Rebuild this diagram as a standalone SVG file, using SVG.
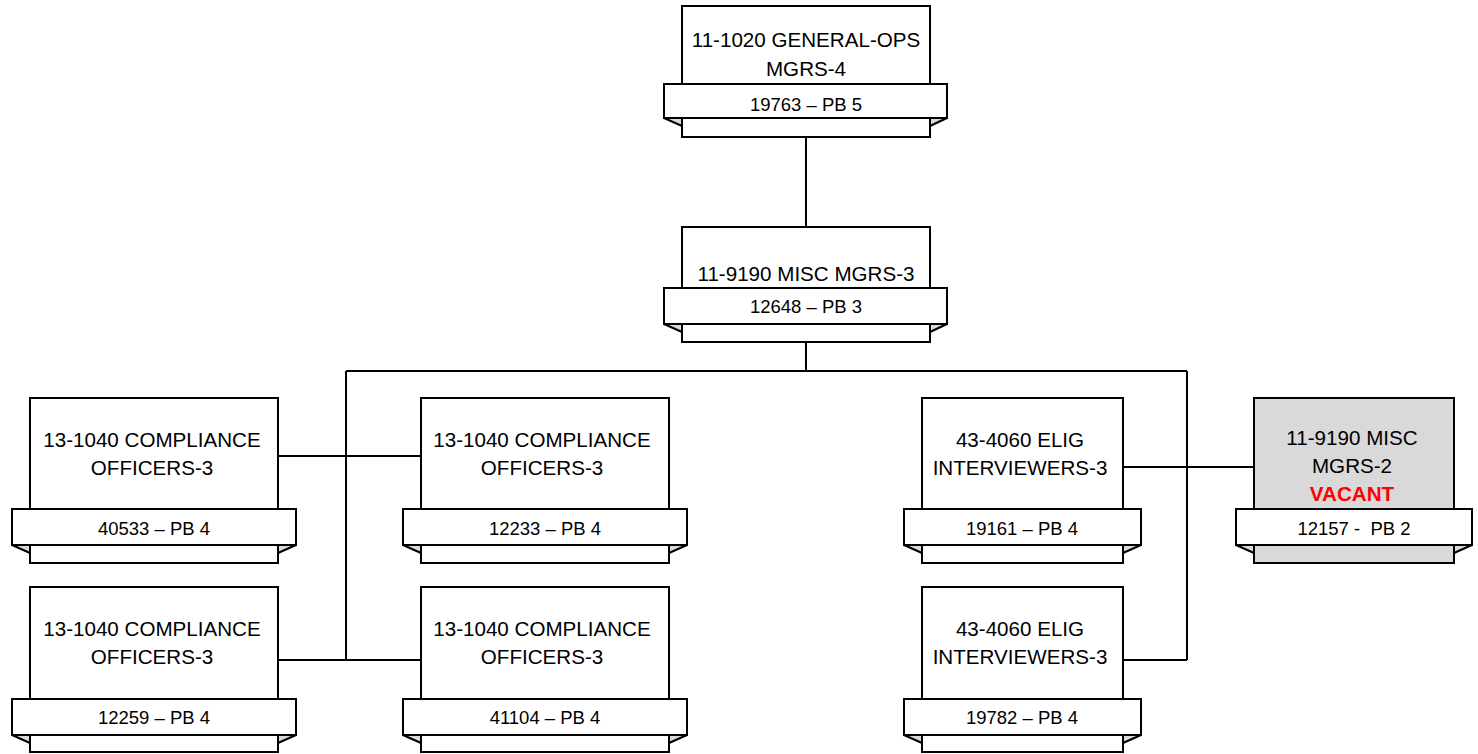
<svg xmlns="http://www.w3.org/2000/svg" width="1478" height="754" viewBox="0 0 1478 754">
<style>
.box{fill:#fff;stroke:#000;stroke-width:2}
.vac{fill:#d9d9d9;stroke:#000;stroke-width:2}
.ban{fill:#fff;stroke:#000;stroke-width:2}
.fold{fill:#d9d9d9;stroke:#000;stroke-width:2;stroke-linejoin:round}
.t{font-family:"Liberation Sans",Arial,sans-serif;font-size:20.6px;fill:#000;text-anchor:middle}
.b{font-family:"Liberation Sans",Arial,sans-serif;font-size:18.5px;fill:#000;text-anchor:middle}
.red{font-weight:bold;fill:#ff0000}
.c{fill:none;stroke:#000;stroke-width:2}
</style>
<g id="connectors">
<path class="c" d="M806 137V227M806 342V371M346 371H1187M346 371V660M1187 371V660M278 456H421M278 660H421M1123 467H1254M1123 660H1187"/>
</g>
<g id="n-general-ops">
<rect class="box" x="682" y="6" width="248" height="131"/>
<polygon class="fold" points="664,118 682,118 682,126"/>
<polygon class="fold" points="947,118 930,118 930,126"/>
<rect class="ban" x="664" y="84" width="283" height="34"/>
<text class="t" x="806" y="47">11-1020 GENERAL-OPS</text>
<text class="t" x="806" y="76">MGRS-4</text>
<text class="b" x="806" y="111">19763 – PB 5</text>
</g>
<g id="n-misc-mgrs3">
<rect class="box" x="682" y="227" width="248" height="115"/>
<polygon class="fold" points="664,324 682,324 682,332"/>
<polygon class="fold" points="947,324 930,324 930,332"/>
<rect class="ban" x="664" y="288" width="283" height="36"/>
<text class="t" x="806" y="281">11-9190 MISC MGRS-3</text>
<text class="b" x="806" y="313">12648 – PB 3</text>
</g>
<g id="n-comp-40533">
<rect class="box" x="30" y="398" width="248" height="165"/>
<polygon class="fold" points="12,545 30,545 30,553"/>
<polygon class="fold" points="296,545 278,545 278,553"/>
<rect class="ban" x="12" y="509" width="284" height="36"/>
<text class="t" x="152" y="447">13-1040 COMPLIANCE</text>
<text class="t" x="152" y="475">OFFICERS-3</text>
<text class="b" x="154" y="535">40533 – PB 4</text>
</g>
<g id="n-comp-12233">
<rect class="box" x="421" y="398" width="248" height="165"/>
<polygon class="fold" points="403,545 421,545 421,553"/>
<polygon class="fold" points="687,545 669,545 669,553"/>
<rect class="ban" x="403" y="509" width="284" height="36"/>
<text class="t" x="542" y="447">13-1040 COMPLIANCE</text>
<text class="t" x="542" y="475">OFFICERS-3</text>
<text class="b" x="545" y="535">12233 – PB 4</text>
</g>
<g id="n-comp-12259">
<rect class="box" x="30" y="587" width="248" height="165"/>
<polygon class="fold" points="12,735 30,735 30,743"/>
<polygon class="fold" points="296,735 278,735 278,743"/>
<rect class="ban" x="12" y="699" width="284" height="36"/>
<text class="t" x="152" y="636">13-1040 COMPLIANCE</text>
<text class="t" x="152" y="664">OFFICERS-3</text>
<text class="b" x="154" y="724">12259 – PB 4</text>
</g>
<g id="n-comp-41104">
<rect class="box" x="421" y="587" width="248" height="165"/>
<polygon class="fold" points="403,735 421,735 421,743"/>
<polygon class="fold" points="687,735 669,735 669,743"/>
<rect class="ban" x="403" y="699" width="284" height="36"/>
<text class="t" x="542" y="636">13-1040 COMPLIANCE</text>
<text class="t" x="542" y="664">OFFICERS-3</text>
<text class="b" x="545" y="724">41104 – PB 4</text>
</g>
<g id="n-elig-19161">
<rect class="box" x="922" y="398" width="201" height="165"/>
<polygon class="fold" points="904,545 922,545 922,553"/>
<polygon class="fold" points="1141,545 1123,545 1123,553"/>
<rect class="ban" x="904" y="509" width="237" height="36"/>
<text class="t" x="1020" y="447">43-4060 ELIG</text>
<text class="t" x="1020" y="475">INTERVIEWERS-3</text>
<text class="b" x="1022" y="535">19161 – PB 4</text>
</g>
<g id="n-elig-19782">
<rect class="box" x="922" y="587" width="201" height="165"/>
<polygon class="fold" points="904,735 922,735 922,743"/>
<polygon class="fold" points="1141,735 1123,735 1123,743"/>
<rect class="ban" x="904" y="699" width="237" height="36"/>
<text class="t" x="1020" y="636">43-4060 ELIG</text>
<text class="t" x="1020" y="664">INTERVIEWERS-3</text>
<text class="b" x="1022" y="724">19782 – PB 4</text>
</g>
<g id="n-misc-mgrs2-vacant">
<rect class="vac" x="1254" y="398" width="200" height="165"/>
<polygon class="fold" points="1236,545 1254,545 1254,553"/>
<polygon class="fold" points="1472,545 1454,545 1454,553"/>
<rect class="ban" x="1236" y="509" width="236" height="36"/>
<text class="t" x="1352" y="445">11-9190 MISC</text>
<text class="t" x="1352" y="473">MGRS-2</text>
<text class="t red" x="1352" y="501">VACANT</text>
<text class="b" x="1354" y="535" xml:space="preserve">12157 -  PB 2</text>
</g>
</svg>
